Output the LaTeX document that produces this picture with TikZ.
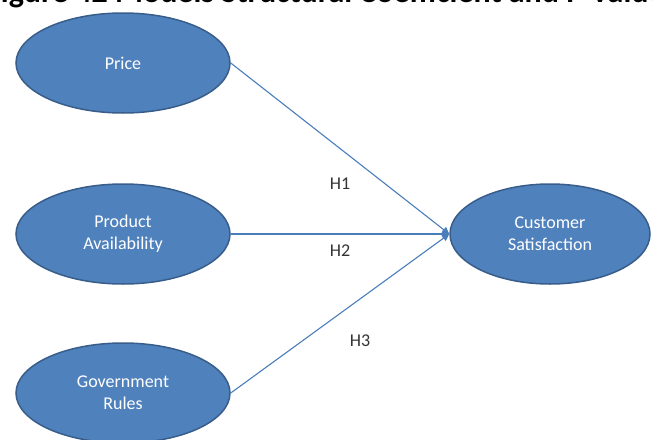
\documentclass[tikz,border=0pt]{standalone}
\usepackage{fontspec}
\setmainfont{Carlito}
\usepackage{xcolor}
\usepackage{tikz}
\usetikzlibrary{arrows.meta,shapes.geometric,positioning}
\definecolor{boxblue}{HTML}{4F81BD}
\definecolor{boxedge}{HTML}{385D8A}
\definecolor{linkblue}{HTML}{4A7EBB}

\begin{document}
\begin{tikzpicture}[x=1pt,y=-1pt,font=\fontsize{18}{22}\selectfont,
  construct/.style={ellipse,draw=boxedge,line width=1.5pt,fill=boxblue,text=white,
    minimum width=214pt,minimum height=100pt,align=center,inner sep=0pt},
  path/.style={linkblue,line width=1.1pt,-{Triangle[length=7pt,width=7pt]}},
  hyp/.style={text=black!80}]
\useasboundingbox (0,0) rectangle (652,439);
\clip (0,0) rectangle (652,439);
% caption, cut off at the top edge
\node[anchor=base west,font=\fontsize{32}{36}\selectfont\bfseries,inner sep=0pt] (cap) at (-14,2.5) {Figure 42 Models Structural Coefficient and P Values};
% latent constructs
\node[construct] (price) at (123,63) {Price};
\node[construct] (avail) at (123,234) {Product\\Availability};
\node[construct] (rules) at (123,393) {Government\\Rules};
\node[construct,minimum width=200pt] (sat) at (550,234) {Customer\\Satisfaction};
% structural paths
\draw[path] (price.east) -- (sat.west);
\draw[path] (avail.east) -- (sat.west);
\draw[path] (rules.east) -- (sat.west);
\node[hyp] (h1) at (340,184) {H1};
\node[hyp] (h2) at (340,251) {H2};
\node[hyp] (h3) at (360,341) {H3};
\end{tikzpicture}
\end{document}
